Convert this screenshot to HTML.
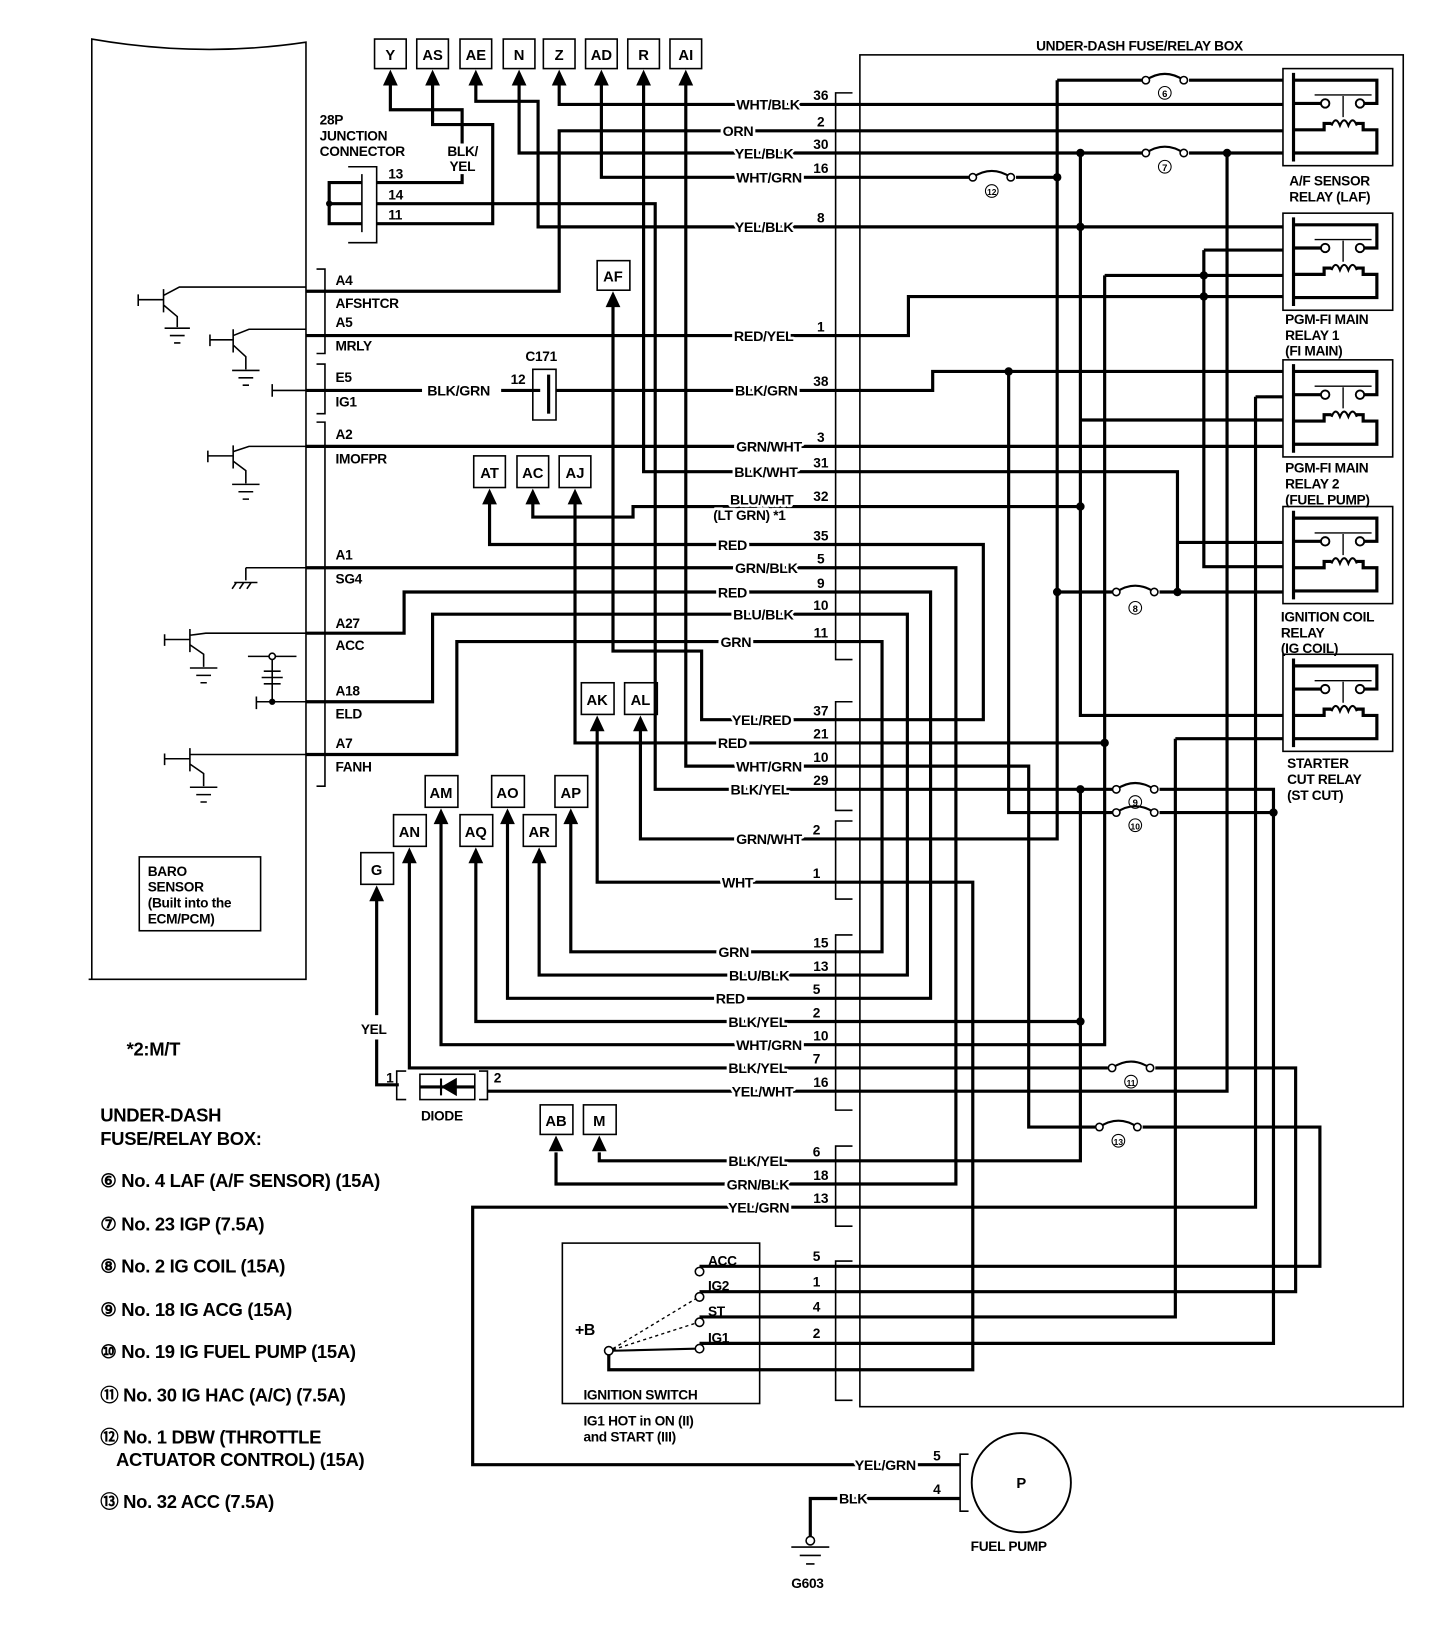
<!DOCTYPE html>
<html><head><meta charset="utf-8"><style>
html,body{margin:0;padding:0;background:#fff;}
svg{display:block;}
text{font-family:"Liberation Sans",sans-serif;font-weight:bold;fill:#000;}
.w{fill:none;stroke:#000;stroke-width:3;}
.t{fill:none;stroke:#000;stroke-width:1.5;}
.lb{font-size:13.5px;paint-order:stroke;stroke:#fff;stroke-width:5px;stroke-linejoin:round;letter-spacing:-0.3px;}
.pn{font-size:13px;text-anchor:middle;}
.bx{font-size:14px;text-anchor:middle;}
.sm{font-size:13px;letter-spacing:-0.3px;}
.lg{font-size:17.5px;letter-spacing:-0.3px;}
</style></head><body>
<svg width="1456" height="1642" viewBox="0 0 1380 1556" preserveAspectRatio="none" xmlns="http://www.w3.org/2000/svg">
<rect width="1380" height="1556" fill="#fff"/>
<!-- ECM -->
<path class="t" d="M87 928 V37 Q190 55 290 40 V928 H84"/>
<rect class="t" x="132" y="812" width="115" height="70"/>
<text class="sm" x="140" y="830">BARO</text>
<text class="sm" x="140" y="845">SENSOR</text>
<text class="sm" x="140" y="860">(Built into the</text>
<text class="sm" x="140" y="875">ECM/PCM)</text>

<!-- transistors -->
<g class="t" stroke-width="2.5">
<path d="M131 284 H155 M155 274 V296 M155 280 L170 272 H290 M155 289 L168 300 V310 M131 279 V290"/>
<path d="M156 311 H180 M161 318 H175 M165 325 H171"/>
<path d="M199 322 H221 M221 312 V334 M221 318 L236 312 H290 M221 327 L233 338 V350 M199 317 V328"/>
<path d="M220 351 H246 M226 358 H240 M230 365 H236"/>
<path d="M258 370 H290 M258 364 V376"/>
<path d="M197 432 H221 M221 422 V444 M221 428 L236 423 H290 M221 437 L233 446 V458 M197 427 V438"/>
<path d="M220 459 H246 M226 466 H240 M230 473 H236"/>
<path d="M233 538 H290 M233 538 V550 M222 552 H244 M224 552 L220 558 M231 552 L227 558 M238 552 L234 558"/>
<path d="M156 606 H180 M180 596 V618 M180 602 L195 600 H290 M180 611 L193 620 V632 M156 601 V612"/>
<path d="M180 633 H206 M186 640 H200 M190 647 H196"/>
<path d="M235 622 H281 M258 622 V665 M250 636 H266 M248 642 H268 M250 648 H266 M243 665 H290 M243 660 V672"/>
<path d="M156 719 H180 M180 709 V731 M180 715 L195 715 H290 M180 724 L193 733 V745 M156 714 V725"/>
<path d="M180 746 H206 M186 753 H200 M190 760 H196"/>
</g>
<circle cx="258" cy="622" r="3" fill="#fff" stroke="#000" stroke-width="1.5"/>
<circle cx="258" cy="665" r="3" fill="#000"/>
<path class="t" d="M300 255 H308 V335 H300 M300 345 H308 V392 H300 M300 400 H308 V745 H300"/>
<g class="sm">
<text x="318" y="270">A4</text><text x="318" y="292">AFSHTCR</text><text x="318" y="310">A5</text><text x="318" y="332">MRLY</text>
<text x="318" y="362">E5</text><text x="318" y="385">IG1</text><text x="318" y="416">A2</text><text x="318" y="439">IMOFPR</text>
<text x="318" y="530">A1</text><text x="318" y="553">SG4</text><text x="318" y="595">A27</text><text x="318" y="616">ACC</text>
<text x="318" y="659">A18</text><text x="318" y="681">ELD</text><text x="318" y="709">A7</text><text x="318" y="731">FANH</text>
</g>

<!-- Junction connector -->
<path class="t" d="M330 158 H357 V230 H330"/>
<path class="t" d="M343 165 V220"/>
<path class="w" d="M343 173 H312 V212 H343 M312 193 H343"/>
<circle cx="312" cy="193" r="3" fill="#000"/>
<text class="sm" x="303" y="118">28P</text><text class="sm" x="303" y="133">JUNCTION</text><text class="sm" x="303" y="148">CONNECTOR</text>
<text class="sm" x="424" y="148">BLK/</text><text class="sm" x="426" y="162">YEL</text>
<text class="sm" x="368" y="169">13</text><text class="sm" x="368" y="189">14</text><text class="sm" x="368" y="208">11</text>

<!-- LEFT WIRES -->
<g class="w">
<path d="M530 80 V99 H792"/>
<path d="M792 124 H530 V276 H290"/>
<path d="M492 80 V145 H792"/>
<path d="M570 80 V168 H792"/>
<path d="M451 80 V96 H510 V215 H792"/>
<path d="M370 80 V104 H438 V136"/>
<path d="M357 173 H438 V165"/>
<path d="M410 80 V118 H467 V212 H357"/>
<path d="M357 193 H621 V748 H792"/>
<path d="M610 80 V447 H792"/>
<path d="M650 80 V726 H792"/>
<path d="M290 318 H792"/>
<path d="M290 370 H400 M475 370 H512 M527 370 H792"/>
<path d="M290 423 H792"/>
<path d="M581 290 V617 H665 V682 H792"/>
<path d="M464 477 V516 H792"/>
<path d="M505 477 V490 H600 V480 H792"/>
<path d="M545 477 V704 H792"/>
<path d="M290 538 H792"/>
<path d="M290 600 H383 V561 H792"/>
<path d="M290 665 H410 V582 H792"/>
<path d="M290 715 H433 V608 H792"/>
<path d="M566 692 V836 H792"/>
<path d="M607 692 V795 H792"/>
<path d="M541 780 V902 H792"/>
<path d="M481 780 V946 H792"/>
<path d="M418 780 V990 H792"/>
<path d="M511 817 V924 H792"/>
<path d="M451 817 V968 H792"/>
<path d="M388 817 V1012 H792"/>
<path d="M357 853 V962 M357 985 V1028 H378"/>
<path d="M462 1034 H792"/>
<path d="M527 1092 V1122 H792"/>
<path d="M568 1092 V1100 H792"/>
<path d="M792 1144 H448 V1388 H910"/>
<path d="M910 1420 H768 V1456"/>
<path d="M663 1200 H792 M663 1224 H792 M663 1248 H792 M663 1273 H792 M577 1280 V1298 H792"/>
</g>
<path class="t" d="M505 350 H527 V398 H505 Z" stroke-width="1.2"/>
<path class="w" d="M520 355 V392" stroke-width="2"/>
<text class="sm" x="498" y="342">C171</text>
<text class="sm" x="484" y="364">12</text>
<text class="lb" x="405" y="375">BLK/GRN</text>
<path class="t" d="M385 1015 H376 V1042 H385 M454 1015 H462 V1042 H454"/>
<rect class="t" x="398" y="1018" width="52" height="24"/>
<path class="w" d="M398 1030 H450" stroke-width="2"/>
<path d="M432 1023 L420 1030 L432 1037 Z M418 1022 V1038" fill="#000" stroke="#000" stroke-width="2"/>
<text class="sm" x="366" y="1026">1</text><text class="sm" x="468" y="1026">2</text>
<text class="sm" x="399" y="1062">DIODE</text>
<text class="sm" x="342" y="980">YEL</text>

<g class="t">
<rect x="355" y="37" width="30" height="28"/><rect x="395" y="37" width="30" height="28"/><rect x="436" y="37" width="30" height="28"/><rect x="477" y="37" width="30" height="28"/><rect x="515" y="37" width="30" height="28"/><rect x="555" y="37" width="30" height="28"/><rect x="595" y="37" width="30" height="28"/><rect x="635" y="37" width="30" height="28"/>
<rect x="566" y="247" width="31" height="28"/>
<rect x="449" y="432" width="30" height="30"/><rect x="490" y="432" width="30" height="30"/><rect x="530" y="432" width="30" height="30"/>
<rect x="551" y="647" width="31" height="30"/><rect x="592" y="647" width="31" height="30"/>
<rect x="403" y="735" width="31" height="30"/><rect x="466" y="735" width="31" height="30"/><rect x="526" y="735" width="31" height="30"/>
<rect x="373" y="772" width="31" height="30"/><rect x="436" y="772" width="31" height="30"/><rect x="496" y="772" width="31" height="30"/>
<rect x="342" y="808" width="31" height="30"/>
<rect x="512" y="1047" width="31" height="28"/><rect x="553" y="1047" width="31" height="28"/>
</g>
<g class="bx">
<text x="370" y="57">Y</text><text x="410" y="57">AS</text><text x="451" y="57">AE</text><text x="492" y="57">N</text><text x="530" y="57">Z</text><text x="570" y="57">AD</text><text x="610" y="57">R</text><text x="650" y="57">AI</text>
<text x="581" y="267">AF</text>
<text x="464" y="453">AT</text><text x="505" y="453">AC</text><text x="545" y="453">AJ</text>
<text x="566" y="668">AK</text><text x="607" y="668">AL</text>
<text x="418" y="756">AM</text><text x="481" y="756">AO</text><text x="541" y="756">AP</text>
<text x="388" y="793">AN</text><text x="451" y="793">AQ</text><text x="511" y="793">AR</text>
<text x="357" y="829">G</text>
<text x="527" y="1067">AB</text><text x="568" y="1067">M</text>
</g>
<g fill="#000">
<path d="M363 81 L370 66 L377 81Z M403 81 L410 66 L417 81Z M444 81 L451 66 L458 81Z M485 81 L492 66 L499 81Z M523 81 L530 66 L537 81Z M563 81 L570 66 L577 81Z M603 81 L610 66 L617 81Z M643 81 L650 66 L657 81Z"/>
<path d="M574 291 L581 276 L588 291Z"/>
<path d="M457 478 L464 463 L471 478Z M498 478 L505 463 L512 478Z M538 478 L545 463 L552 478Z"/>
<path d="M559 693 L566 678 L573 693Z M600 693 L607 678 L614 693Z"/>
<path d="M411 781 L418 766 L425 781Z M474 781 L481 766 L488 781Z M534 781 L541 766 L548 781Z"/>
<path d="M381 818 L388 803 L395 818Z M444 818 L451 803 L458 818Z M504 818 L511 803 L518 818Z"/>
<path d="M350 854 L357 839 L364 854Z"/>
<path d="M520 1091 L527 1076 L534 1091Z M561 1091 L568 1076 L575 1091Z"/>
</g>

<g class="lb" text-anchor="end">
<text x="758" y="104">WHT/BLK</text><text x="714" y="129">ORN</text><text x="752" y="150">YEL/BLK</text><text x="760" y="173">WHT/GRN</text>
<text x="752" y="220">YEL/BLK</text><text x="752" y="323">RED/YEL</text><text x="756" y="375">BLK/GRN</text>
<text x="760" y="428">GRN/WHT</text><text x="756" y="452">BLK/WHT</text><text x="752" y="478">BLU/WHT</text>
<text x="708" y="521">RED</text><text x="756" y="543">GRN/BLK</text><text x="708" y="566">RED</text><text x="752" y="587">BLU/BLK</text><text x="712" y="613">GRN</text>
<text x="750" y="687">YEL/RED</text><text x="708" y="709">RED</text><text x="760" y="731">WHT/GRN</text><text x="748" y="753">BLK/YEL</text>
<text x="760" y="800">GRN/WHT</text><text x="714" y="841">WHT</text>
<text x="710" y="907">GRN</text><text x="748" y="929">BLU/BLK</text><text x="706" y="951">RED</text><text x="746" y="973">BLK/YEL</text><text x="760" y="995">WHT/GRN</text><text x="746" y="1017">BLK/YEL</text><text x="752" y="1039">YEL/WHT</text>
<text x="746" y="1105">BLK/YEL</text><text x="748" y="1127">GRN/BLK</text><text x="748" y="1149">YEL/GRN</text>
<text x="868" y="1393">YEL/GRN</text><text x="822" y="1425">BLK</text>
</g>
<text class="sm" x="676" y="493" style="paint-order:stroke;stroke:#fff;stroke-width:5px">(LT GRN)  *1</text>
<g class="pn">
<text x="778" y="95">36</text><text x="778" y="120">2</text><text x="778" y="141">30</text><text x="778" y="164">16</text><text x="778" y="211">8</text><text x="778" y="314">1</text><text x="778" y="366">38</text><text x="778" y="419">3</text><text x="778" y="443">31</text><text x="778" y="475">32</text>
<text x="778" y="512">35</text><text x="778" y="534">5</text><text x="778" y="557">9</text><text x="778" y="578">10</text><text x="778" y="604">11</text>
<text x="778" y="678">37</text><text x="778" y="700">21</text><text x="778" y="722">10</text><text x="778" y="744">29</text>
<text x="774" y="791">2</text><text x="774" y="832">1</text>
<text x="778" y="898">15</text><text x="778" y="920">13</text><text x="774" y="942">5</text><text x="774" y="964">2</text><text x="778" y="986">10</text><text x="774" y="1008">7</text><text x="778" y="1030">16</text>
<text x="774" y="1096">6</text><text x="778" y="1118">18</text><text x="778" y="1140">13</text>
<text x="774" y="1195">5</text><text x="774" y="1219">1</text><text x="774" y="1243">4</text><text x="774" y="1268">2</text>
<text x="888" y="1384">5</text><text x="888" y="1416">4</text>
</g>
<path class="t" d="M808 88 H792 V625 H808 M808 665 H792 V768 H808 M808 778 H792 V852 H808 M808 886 H792 V1052 H808 M808 1086 H792 V1162 H808 M808 1195 H792 V1327 H808" stroke-width="2"/>

<rect class="t" x="533" y="1178" width="187" height="152"/>
<g fill="#fff" stroke="#000" stroke-width="1.5">
<circle cx="663" cy="1205" r="4"/><circle cx="663" cy="1229" r="4"/><circle cx="663" cy="1253" r="4"/><circle cx="663" cy="1278" r="4"/><circle cx="577" cy="1280" r="4"/>
</g>
<path d="M581 1278 L659 1231 M581 1279 L659 1254" stroke="#000" stroke-width="1.3" stroke-dasharray="3 3"/>
<path d="M581 1280 L659 1278" stroke="#000" stroke-width="2"/>
<g class="sm">
<text x="671" y="1199">ACC</text><text x="671" y="1223">IG2</text><text x="671" y="1247">ST</text><text x="671" y="1272">IG1</text>
<text x="545" y="1265" style="font-size:15px">+B</text>
<text x="553" y="1326">IGNITION SWITCH</text>
<text x="553" y="1351">IG1 HOT in ON (II)</text><text x="553" y="1366">and START (III)</text>
</g>

<path class="t" d="M918 1378 H910 V1432 H918" stroke-width="2"/>
<circle cx="968" cy="1405" r="47" fill="none" stroke="#000" stroke-width="1.8"/>
<text class="bx" x="968" y="1410">P</text>
<text class="sm" x="920" y="1470">FUEL PUMP</text>
<circle cx="768" cy="1460" r="4" fill="#fff" stroke="#000" stroke-width="1.5"/>
<path class="t" d="M750 1466 H786 M758 1474 H778 M764 1482 H772" stroke-width="2"/>
<text class="sm" x="750" y="1505">G603</text>

<rect x="815" y="52" width="515" height="1281" fill="none" stroke="#000" stroke-width="1.5"/>
<text class="sm" x="1080" y="48" text-anchor="middle">UNDER-DASH FUSE/RELAY BOX</text>
<g class="w">
<path d="M792 99 H1224 M792 124 H1224 M792 145 H1224 M792 168 H1002"/>
<path d="M1002 76 H1224 M1002 76 V795 H792"/>
<path d="M1024 145 V678 H1224 M1024 398 H1224"/>
<path d="M1024 748 V1100 H792"/>
<path d="M1163 145 V1034 H792"/>
<path d="M792 215 H1224"/>
<path d="M1141 237 H1224 M1141 237 V537 H1224"/>
<path d="M1047 261 H1224 M1047 261 V990 H792 M792 704 H1047"/>
<path d="M792 318 H861 V281 H1224"/>
<path d="M792 370 H884 V352 H1224"/>
<path d="M956 352 V770 H1207"/>
<path d="M1190 376 H1224 M1190 376 V1144 H792"/>
<path d="M792 423 H1224"/>
<path d="M792 447 H1116 V561 M1116 514 H1224"/>
<path d="M792 480 H1024"/>
<path d="M1002 561 H1224"/>
<path d="M792 516 H932 V682 H792"/>
<path d="M792 538 H906 V1122 H792"/>
<path d="M792 561 H882 V946 H792"/>
<path d="M792 582 H860 V924 H792"/>
<path d="M792 608 H836 V902 H792"/>
<path d="M792 726 H975 V1068 H1251 V1200 H792"/>
<path d="M792 748 H1207 V1273 H792"/>
<path d="M1114 700 H1224 M1114 700 V1248 H792"/>
<path d="M792 836 H922 V1298 H792"/>
<path d="M792 968 H1024"/>
<path d="M792 1012 H1228 V1224 H792"/>
</g>
<g>
<rect x="1082" y="68" width="45" height="14" fill="#fff"/><rect x="1082" y="137" width="45" height="14" fill="#fff"/><rect x="918" y="160" width="45" height="14" fill="#fff"/>
<rect x="1054" y="553" width="45" height="14" fill="#fff"/><rect x="1054" y="740" width="45" height="14" fill="#fff"/><rect x="1054" y="762" width="45" height="14" fill="#fff"/>
<rect x="1050" y="1004" width="45" height="14" fill="#fff"/><rect x="1038" y="1060" width="45" height="14" fill="#fff"/>
</g>
<g fill="none" stroke="#000" stroke-width="2">
<path d="M1086 76 Q1104 64 1122 76 M1086 145 Q1104 133 1122 145 M922 168 Q940 156 958 168 M1058 561 Q1076 549 1094 561 M1058 748 Q1076 736 1094 748 M1058 770 Q1076 758 1094 770 M1054 1012 Q1072 1000 1090 1012 M1042 1068 Q1060 1056 1078 1068"/>
</g>
<g fill="#fff" stroke="#000" stroke-width="1.5">
<circle cx="1086" cy="76" r="3.5"/><circle cx="1122" cy="76" r="3.5"/><circle cx="1086" cy="145" r="3.5"/><circle cx="1122" cy="145" r="3.5"/><circle cx="922" cy="168" r="3.5"/><circle cx="958" cy="168" r="3.5"/>
<circle cx="1058" cy="561" r="3.5"/><circle cx="1094" cy="561" r="3.5"/><circle cx="1058" cy="748" r="3.5"/><circle cx="1094" cy="748" r="3.5"/><circle cx="1058" cy="770" r="3.5"/><circle cx="1094" cy="770" r="3.5"/>
<circle cx="1054" cy="1012" r="3.5"/><circle cx="1090" cy="1012" r="3.5"/><circle cx="1042" cy="1068" r="3.5"/><circle cx="1078" cy="1068" r="3.5"/>
</g>
<g font-size="10" text-anchor="middle" font-family="Liberation Sans,sans-serif">
<circle cx="1104" cy="88" r="6" fill="none" stroke="#000"/><text x="1104" y="92" style="font-size:9px">6</text>
<circle cx="1104" cy="158" r="6" fill="none" stroke="#000"/><text x="1104" y="162" style="font-size:9px">7</text>
<circle cx="940" cy="181" r="6" fill="none" stroke="#000"/><text x="940" y="185" style="font-size:8px">12</text>
<circle cx="1076" cy="576" r="6" fill="none" stroke="#000"/><text x="1076" y="580" style="font-size:9px">8</text>
<circle cx="1076" cy="760" r="6" fill="none" stroke="#000"/><text x="1076" y="764" style="font-size:9px">9</text>
<circle cx="1076" cy="782" r="6" fill="none" stroke="#000"/><text x="1076" y="786" style="font-size:8px">10</text>
<circle cx="1072" cy="1025" r="6" fill="none" stroke="#000"/><text x="1072" y="1029" style="font-size:8px">11</text>
<circle cx="1060" cy="1081" r="6" fill="none" stroke="#000"/><text x="1060" y="1085" style="font-size:8px">13</text>
</g>
<g fill="#000">
<circle cx="1024" cy="145" r="4"/><circle cx="1163" cy="145" r="4"/><circle cx="1002" cy="168" r="4"/><circle cx="1024" cy="215" r="4"/><circle cx="1141" cy="261" r="4"/><circle cx="1141" cy="281" r="4"/><circle cx="956" cy="352" r="4"/><circle cx="1002" cy="561" r="4"/><circle cx="1116" cy="561" r="4"/><circle cx="1047" cy="704" r="4"/><circle cx="1024" cy="748" r="4"/><circle cx="1207" cy="770" r="4"/><circle cx="1024" cy="968" r="4"/><circle cx="1024" cy="480" r="4"/>
</g>

<defs>
<g id="rl">
<rect x="1216" y="0" width="104" height="92" fill="#fff" stroke="#000" stroke-width="1.5"/>
<path d="M1226 4 V88 M1226 11 H1305 V33 H1292 M1226 33 H1252 M1226 58 H1255 V52 H1262 M1285 52 H1292 V58 H1305 V80 H1226" fill="none" stroke="#000" stroke-width="3"/>
<path d="M1262 54 Q1266 44 1270 54 Q1274 44 1278 54 Q1282 44 1286 54" fill="none" stroke="#000" stroke-width="2"/>
<path d="M1246 25 H1300 M1273 26 V46" fill="none" stroke="#000" stroke-width="1.3"/>
<circle cx="1256" cy="33" r="4" fill="#fff" stroke="#000" stroke-width="1.8"/>
<circle cx="1289" cy="33" r="4" fill="#fff" stroke="#000" stroke-width="1.8"/>
</g>
</defs>
<use href="#rl" y="65"/><use href="#rl" y="202"/><use href="#rl" y="341"/><use href="#rl" y="480"/><use href="#rl" y="620"/>
<g class="sm">
<text x="1222" y="176">A/F SENSOR</text><text x="1222" y="191">RELAY (LAF)</text>
<text x="1218" y="307">PGM-FI MAIN</text><text x="1218" y="322">RELAY 1</text><text x="1218" y="337">(FI MAIN)</text>
<text x="1218" y="448">PGM-FI MAIN</text><text x="1218" y="463">RELAY 2</text><text x="1218" y="478">(FUEL PUMP)</text>
<text x="1214" y="589">IGNITION COIL</text><text x="1214" y="604">RELAY</text><text x="1214" y="619">(IG COIL)</text>
<text x="1220" y="728">STARTER</text><text x="1220" y="743">CUT RELAY</text><text x="1220" y="758">(ST CUT)</text>
</g>

<text class="lg" x="120" y="1000">*2:M/T</text>
<text class="lg" x="95" y="1063">UNDER-DASH</text>
<text class="lg" x="95" y="1085">FUSE/RELAY BOX:</text>
<g class="lg">
<text x="95" y="1125">⑥ No. 4 LAF (A/F SENSOR) (15A)</text>
<text x="95" y="1166">⑦ No. 23 IGP (7.5A)</text>
<text x="95" y="1206">⑧ No. 2 IG COIL (15A)</text>
<text x="95" y="1247">⑨ No. 18 IG ACG (15A)</text>
<text x="95" y="1287">⑩ No. 19 IG FUEL PUMP (15A)</text>
<text x="95" y="1328">⑪ No. 30 IG HAC (A/C) (7.5A)</text>
<text x="95" y="1368">⑫ No. 1 DBW (THROTTLE</text>
<text x="110" y="1389">ACTUATOR CONTROL) (15A)</text>
<text x="95" y="1429">⑬ No. 32 ACC (7.5A)</text>
</g>
</svg>
</body></html>
